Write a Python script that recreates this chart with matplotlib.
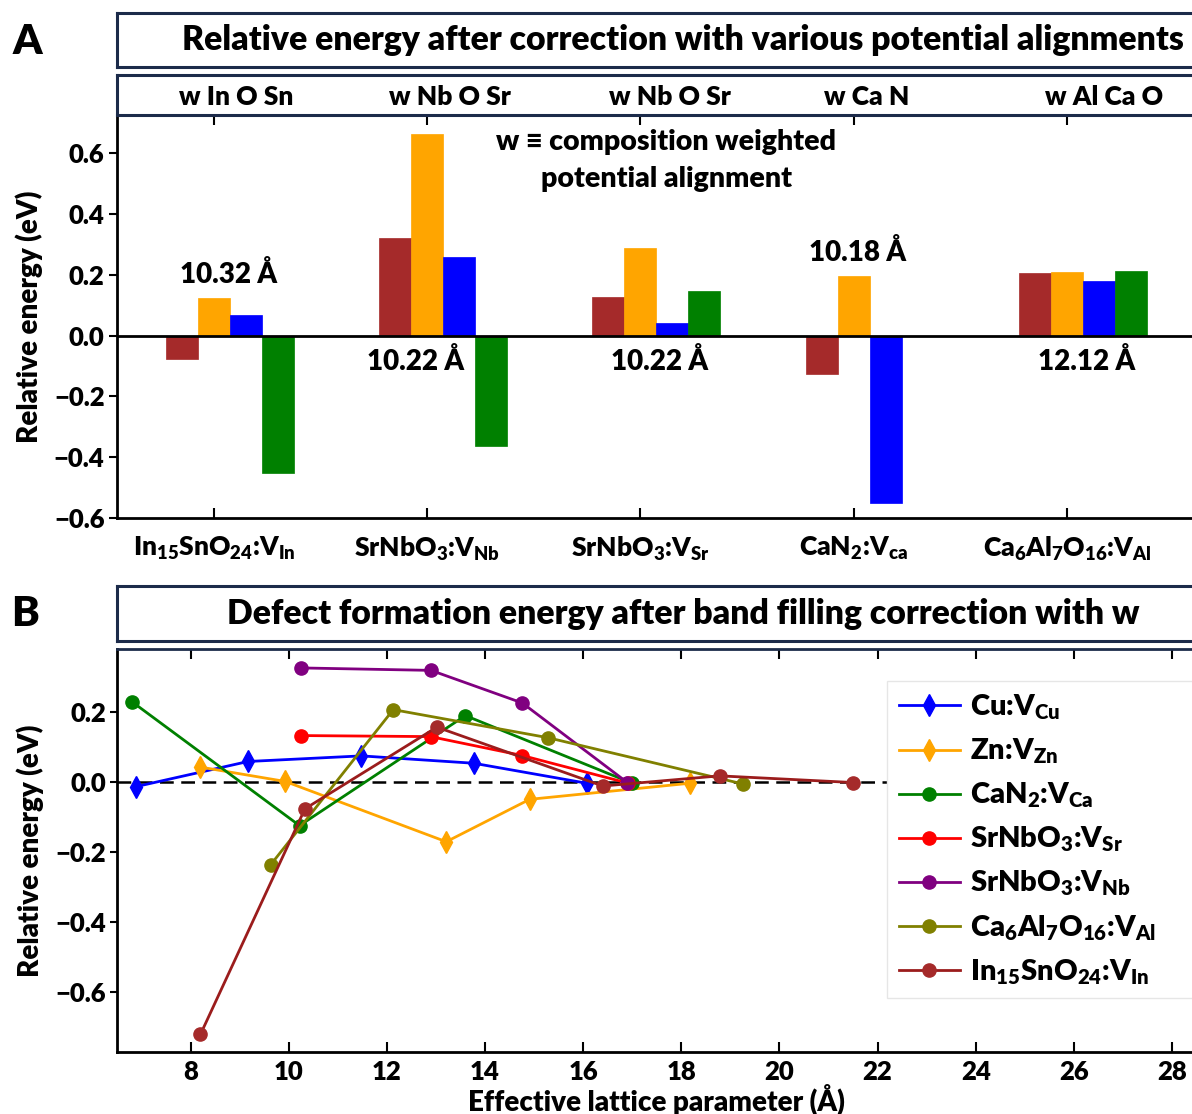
import numpy as np
import matplotlib
matplotlib.use("Agg")
import matplotlib.pyplot as plt
import matplotlib.transforms as mtransforms

WT = 'heavy'
plt.rcParams['font.family'] = ['Lato', 'DejaVu Sans']
plt.rcParams['font.weight'] = WT
plt.rcParams['mathtext.fontset'] = 'custom'
plt.rcParams['mathtext.rm'] = 'Lato:heavy'
plt.rcParams['mathtext.it'] = 'Lato:heavy'
plt.rcParams['mathtext.bf'] = 'Lato:heavy'
plt.rcParams['axes.unicode_minus'] = True

# ---------------- Panel A data ----------------
categories_A = [r'In$_{15}$SnO$_{24}$:V$_{\mathrm{In}}$',
                r'SrNbO$_3$:V$_{\mathrm{Nb}}$',
                r'SrNbO$_3$:V$_{\mathrm{Sr}}$',
                r'CaN$_2$:V$_{\mathrm{ca}}$',
                r'Ca$_6$Al$_7$O$_{16}$:V$_{\mathrm{Al}}$']
alignment_labels = ['w In O Sn', 'w Nb O Sr', 'w Nb O Sr', 'w Ca N', 'w Al Ca O']
w_align = [-0.078, 0.320, 0.128, -0.126, 0.206]
elem1_align = [0.124, 0.663, 0.288, 0.195, 0.210]
elem2_align = [0.069, 0.259, 0.040, -0.550, 0.181]
elem3_align = [-0.453, -0.362, 0.148, np.nan, 0.212]
size_labels = ['10.32 Å', '10.22 Å', '10.22 Å', '10.18 Å', '12.12 Å']

# ---------------- Panel B data ----------------
cu_x = [6.88, 9.17, 11.48, 13.77, 16.07]
cu_y = [-0.013, 0.059, 0.075, 0.054, -0.003]
zn_x = [8.20, 9.93, 13.21, 14.91, 18.18]
zn_y = [0.043, 0.002, -0.170, -0.049, -0.003]
can2_x = [6.81, 10.22, 13.60, 17.00]
can2_y = [0.229, -0.124, 0.190, -0.003]
vsr_x = [10.24, 12.89, 14.76, 16.92]
vsr_y = [0.133, 0.130, 0.076, -0.003]
vnb_x = [10.24, 12.90, 14.76, 16.90]
vnb_y = [0.326, 0.319, 0.226, -0.001]
al_x = [9.63, 12.13, 15.28, 19.25]
al_y = [-0.236, 0.207, 0.127, -0.005]
in_x = [8.20, 10.33, 13.02, 16.40, 18.78, 21.50]
in_y = [-0.720, -0.076, 0.157, -0.011, 0.018, -0.001]
series_names = [r'Cu:V$_{\mathrm{Cu}}$', r'Zn:V$_{\mathrm{Zn}}$', r'CaN$_2$:V$_{\mathrm{Ca}}$',
                r'SrNbO$_3$:V$_{\mathrm{Sr}}$', r'SrNbO$_3$:V$_{\mathrm{Nb}}$',
                r'Ca$_6$Al$_7$O$_{16}$:V$_{\mathrm{Al}}$', r'In$_{15}$SnO$_{24}$:V$_{\mathrm{In}}$']

W, H = 1192, 1114
fig = plt.figure(figsize=(W / 100, H / 100), dpi=100)


def px_rect(l, t, r, b):
    return [l / W, 1 - b / H, (r - l) / W, (b - t) / H]


box_color = '#1c2b4a'


def make_box(rect):
    ax = fig.add_axes(rect)
    ax.set_xticks([])
    ax.set_yticks([])
    for s in ax.spines.values():
        s.set_color(box_color)
        s.set_linewidth(2.2)
    return ax


# ---------------- Panel A ----------------
axA = fig.add_axes(px_rect(117, 115, 1195, 518))
boxA1 = make_box(px_rect(117, 13, 1300, 67))
boxA2 = make_box(px_rect(117, 75, 1300, 115))
boxA1.text((683 - 117) / (1300 - 117), 0.5,
           'Relative energy after correction with various potential alignments',
           ha='center', va='center', fontsize=24.3, fontweight=WT,
           transform=boxA1.transAxes)

x = np.arange(len(categories_A))
bw = 0.15
bar_colors = ['#a52a2a', '#ffa500', '#0000ff', '#008000']
for i, (vals, c) in enumerate(zip([w_align, elem1_align, elem2_align, elem3_align], bar_colors)):
    axA.bar(x + (i - 1) * bw, vals, width=bw, color=c, edgecolor=c, linewidth=0.5, zorder=2)
axA.axhline(0, color='black', lw=2, zorder=3)
axA.set_xlim(-0.454, 4.6)
axA.set_ylim(-0.6, 0.726)
axA.set_xticks(x)
axA.set_xticklabels(categories_A, fontsize=19)
axA.set_yticks([-0.6, -0.4, -0.2, 0.0, 0.2, 0.4, 0.6])
axA.tick_params(axis='y', which='both', labelsize=18.5, direction='out', length=6, width=1.5, pad=3)
axA.tick_params(axis='x', direction='in', length=7, width=1.5, top=True, pad=12)
axA.yaxis.set_tick_params(which='major', right=True)
for s in axA.spines.values():
    s.set_linewidth(2)
axA.spines['top'].set_color(box_color)
axA.set_ylabel('Relative energy (eV)', fontsize=20, fontweight=WT, labelpad=8)

# alignment labels in box A2 aligned to panel A data x
trA2 = mtransforms.blended_transform_factory(axA.transData, boxA2.transAxes)
align_label_x = [0.103, 1.105, 2.136, 3.06, 4.173]
for lx, lab in zip(align_label_x, alignment_labels):
    boxA2.text(lx, 0.45, lab, transform=trA2, ha='center', va='center',
               fontsize=19, fontweight=WT)

size_pos = [(0.07, 0.202), (0.946, -0.086), (2.09, -0.086), (3.016, 0.272), (4.09, -0.086)]
for (sx, sy), lab in zip(size_pos, size_labels):
    axA.text(sx, sy, lab, ha='center', va='center', fontsize=20, fontweight=WT, zorder=4)
axA.text(2.12, 0.576, 'w ≡ composition weighted\npotential alignment', ha='center', va='center',
         fontsize=20.5, fontweight=WT, linespacing=1.5)

fig.text(27 / W, 1 - 42 / H, 'A', fontsize=30, fontweight=WT, ha='center', va='center')
fig.text(25 / W, 1 - 614 / H, 'B', fontsize=30, fontweight=WT, ha='center', va='center')

# ---------------- Panel B ----------------
boxB = make_box(px_rect(117, 586, 1300, 641))
boxB.text((683 - 117) / (1300 - 117), 0.5,
          'Defect formation energy after band filling correction with w',
          ha='center', va='center', fontsize=24.3, fontweight=WT,
          transform=boxB.transAxes)

axB = fig.add_axes(px_rect(117, 649, 1196.5, 1052))
axB.axhline(0, color='black', lw=1.8, ls=(0, (5.5, 3)), zorder=1)
line_specs = [
    (cu_x, cu_y, '#0000ff', '#0000ff', 'd', 11),
    (zn_x, zn_y, '#ffa500', '#ffa500', 'd', 11),
    (can2_x, can2_y, '#008000', '#008000', 'o', 9.5),
    (vsr_x, vsr_y, '#ff0000', '#ff0000', 'o', 9.5),
    (vnb_x, vnb_y, '#800080', '#800080', 'o', 9.5),
    (al_x, al_y, '#808000', '#808000', 'o', 9.5),
    (in_x, in_y, '#9b1c1c', '#a52a2a', 'o', 9.5),
]
for (xs, ys, lc, mc, mk, ms), name in zip(line_specs, series_names):
    axB.plot(xs, ys, color=lc, marker=mk, markersize=ms, markerfacecolor=mc,
             markeredgecolor=mc, lw=2, label=name, zorder=2)
axB.set_xlim(6.5, 28.5)
axB.set_ylim(-0.77, 0.38)
axB.set_xticks(np.arange(8, 29, 2))
axB.set_yticks([-0.6, -0.4, -0.2, 0.0, 0.2])
axB.tick_params(axis='x', direction='in', length=7, width=1.5, top=True, labelsize=18.5, pad=6)
axB.tick_params(axis='y', direction='out', length=5, width=1.5, labelsize=18.5, pad=3)
axB.yaxis.set_tick_params(right=True)
for s in axB.spines.values():
    s.set_linewidth(2)
axB.spines['top'].set_color(box_color)
axB.set_ylabel('Relative energy (eV)', fontsize=20, fontweight=WT, labelpad=8)
axB.set_xlabel('Effective lattice parameter (Å)', fontsize=20, fontweight=WT, labelpad=0)
leg_x0 = (887 - 117) / (1196.5 - 117)
leg_w = (1240 - 887) / (1196.5 - 117)
leg_top = (1052 - 681) / 403
leg = axB.legend(loc='upper left', bbox_to_anchor=(leg_x0, 0, leg_w, leg_top), mode='expand',
                 fontsize=21, frameon=True, fancybox=False, edgecolor='#e6e6e6', framealpha=1,
                 handlelength=2.1, handletextpad=0.35, labelspacing=0.5, borderpad=0.4,
                 borderaxespad=0)
leg.get_frame().set_linewidth(1)

fig.savefig('out.png', dpi=100)
